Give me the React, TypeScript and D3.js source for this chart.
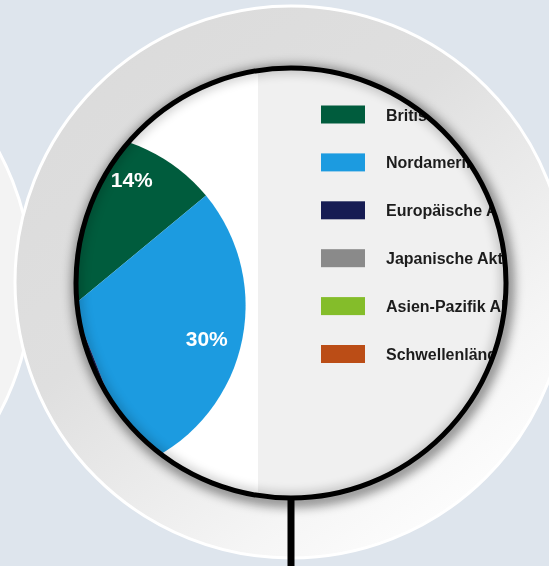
import React from "react";
import * as d3 from "d3";

const categories = [
  "Britische Aktien",
  "Nordamerikanische Aktien",
  "Europäische Aktien",
  "Japanische Aktien",
  "Asien-Pazifik Aktien",
  "Schwellenländer Aktien",
];
const values = [14, 30, 18, 8, 12, 18];
const colors = ["#035b3d", "#1d9be0", "#161d52", "#8a8a8a", "#84bd2a", "#bb4d12"];
const shownLabels = ["14%", "30%", "", "", "", ""];

const W = 549;
const H = 566;

export default function App() {
  const lensCx = 291;
  const lensCy = 283;
  const lensR = 215;

  const pieCx = 73;
  const pieCy = 305.6;
  const R = 172.6;

  const pie = d3
    .pie<number>()
    .sort(null)
    .value((d) => d)
    .startAngle(0)
    .endAngle(2 * Math.PI);
  const arcs = pie(values);
  const arc = d3.arc<d3.PieArcDatum<number>>().innerRadius(0).outerRadius(R);
  const labelArc = d3
    .arc<d3.PieArcDatum<number>>()
    .innerRadius(R * 0.6)
    .outerRadius(R);

  const legendY = d3
    .scaleLinear()
    .domain([0, categories.length - 1])
    .range([105.5, 345]);

  return (
    <svg
      width={W}
      height={H}
      style={{ position: "absolute", left: 0, top: 0, display: "block" }}
    >
      <defs>
        <linearGradient id="outerGrad" x1="0" y1="0" x2="0.8" y2="1">
          <stop offset="0" stopColor="#dadada" />
          <stop offset="0.45" stopColor="#dfdfdf" />
          <stop offset="0.8" stopColor="#f5f5f5" />
          <stop offset="1" stopColor="#ffffff" />
        </linearGradient>
        <clipPath id="lensClip">
          <circle cx={lensCx} cy={lensCy} r={lensR} />
        </clipPath>
        <filter id="blurShadow" x="-20%" y="-20%" width="140%" height="140%">
          <feGaussianBlur stdDeviation="6" />
        </filter>
        <filter id="soft" x="-5%" y="-5%" width="110%" height="110%">
          <feGaussianBlur stdDeviation="0.45" />
        </filter>
      </defs>

      <rect x={0} y={0} width={W} height={H} fill="#dee5ed" />

      {/* left neighbouring circle */}
      <circle cx={-245} cy={283} r={277} fill="#f3f3f3" stroke="#ffffff" strokeWidth={3} />

      {/* main large circle */}
      <circle cx={291} cy={282} r={276} fill="url(#outerGrad)" stroke="#ffffff" strokeWidth={3} />

      {/* lens shadow */}
      <circle
        cx={lensCx + 2}
        cy={lensCy + 3}
        r={lensR}
        fill="none"
        stroke="#000"
        strokeWidth={10}
        opacity={0.55}
        filter="url(#blurShadow)"
      />

      {/* magnified chart content */}
      <g clipPath="url(#lensClip)">
        <g filter="url(#soft)">
          <rect x={-300} y={0} width={558} height={H} fill="#ffffff" />
          <rect x={258} y={0} width={400} height={H} fill="#f0f0f0" />
          <g transform={`translate(${pieCx},${pieCy})`}>
            {arcs.map((a, i) => (
              <path key={categories[i]} d={arc(a) || ""} fill={colors[i]} />
            ))}
            {arcs.map((a, i) => {
              const [lx, ly] = labelArc.centroid(a);
              return shownLabels[i] ? (
                <text
                  key={"l" + i}
                  x={lx}
                  y={ly - 1}
                  textAnchor="middle"
                  dominantBaseline="central"
                  fill="#ffffff"
                  fontFamily="'Liberation Sans', Arial, sans-serif"
                  fontWeight="bold"
                  fontSize={21}
                >
                  {shownLabels[i]}
                </text>
              ) : null;
            })}
          </g>
          {categories.map((c, i) => (
            <g key={"leg" + i} transform={`translate(321,${legendY(i)})`}>
              <rect x={0} y={0} width={44} height={18} fill={colors[i]} />
              <text
                x={65}
                y={15}
                fill="#1e1e1e"
                fontFamily="'Liberation Sans', Arial, sans-serif"
                fontWeight="bold"
                fontSize={16}
              >
                {c}
              </text>
            </g>
          ))}
        </g>
        {/* inner shadow inside lens */}
        <circle
          cx={lensCx}
          cy={lensCy}
          r={lensR}
          fill="none"
          stroke="#000"
          strokeWidth={6}
          opacity={0.35}
          filter="url(#blurShadow)"
        />
      </g>

      {/* lens ring */}
      <circle cx={lensCx} cy={lensCy} r={lensR} fill="none" stroke="#000000" strokeWidth={5} />
      {/* handle */}
      <rect x={287.5} y={lensCy + lensR} width={7} height={H - (lensCy + lensR)} fill="#000000" />
    </svg>
  );
}
